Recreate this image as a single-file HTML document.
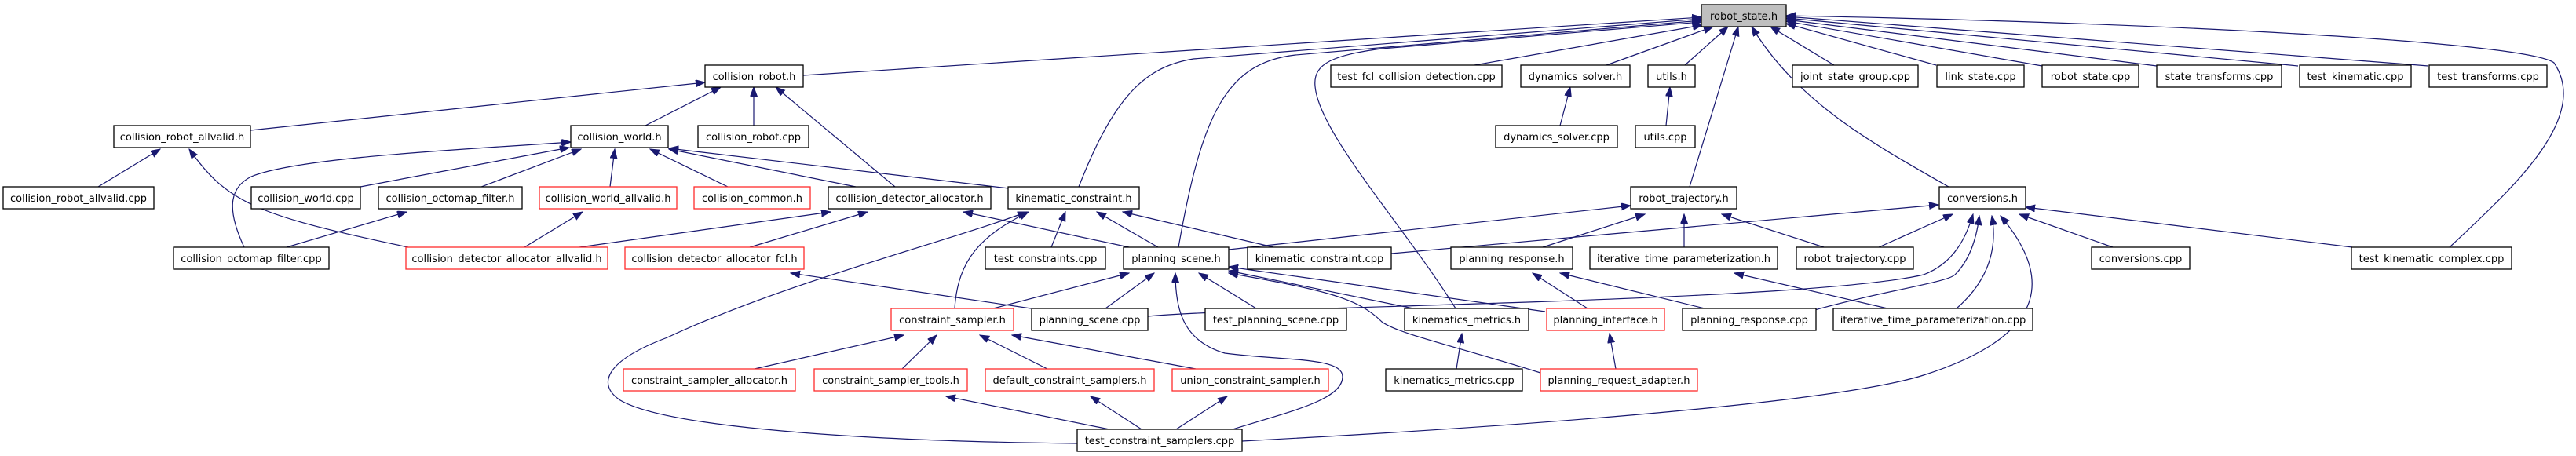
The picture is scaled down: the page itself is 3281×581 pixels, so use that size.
<!DOCTYPE html>
<html><head><meta charset="utf-8"><style>
html,body{margin:0;padding:0;background:#fff;width:3281px;height:581px;overflow:hidden}
svg{display:block}
.n{fill:#fff;stroke:#000;stroke-width:1.3}
.r{fill:#fff;stroke:#ff2b2b;stroke-width:1.3}
text{font-family:"DejaVu Sans","Liberation Sans",sans-serif;font-size:13px;fill:#000;text-anchor:middle}
path{fill:none;stroke:#191970;stroke-width:1.2;marker-end:url(#a)}
</style></head><body>
<svg width="3281" height="581" viewBox="0 0 3281 581" xmlns="http://www.w3.org/2000/svg">
<defs><marker id="a" markerUnits="userSpaceOnUse" markerWidth="13" markerHeight="10" refX="12" refY="4.5" orient="auto"><polygon points="0,0 12,4.5 0,9" fill="#191970" stroke="#191970"/></marker></defs>
<g>
<path d="M1023,96 L2167,22"/>
<path d="M319,166 L898,105"/>
<path d="M822,160 L918,111"/>
<path d="M960,160 L960,111"/>
<path d="M1140,238 L988,111"/>
<path d="M125,238 L204,190"/>
<path d="M520,315 C330,275 290,260 241,190"/>
<path d="M459,238 L725,188"/>
<path d="M613,238 L740,190"/>
<path d="M311,315 C290,270 290,240 320,225 C380,200 600,190 727,181"/>
<path d="M777,238 L783,190"/>
<path d="M927,238 L828,190"/>
<path d="M1090,238 L852,190"/>
<path d="M1285,240 L852,189"/>
<path d="M365,315 L518,270"/>
<path d="M668,315 L742,270"/>
<path d="M738,315 L1058,270"/>
<path d="M955,315 L1105,270"/>
<path d="M1438,315 L1227,270"/>
<path d="M1374,238 C1420,120 1460,85 1520,75 L2167,24"/>
<path d="M1501,315 C1530,150 1560,80 1650,70 L2167,26"/>
<path d="M1339,315 L1357,270"/>
<path d="M1475,315 L1397,270"/>
<path d="M1622,315 L1430,270"/>
<path d="M1216,393 C1220,330 1250,300 1310,270"/>
<path d="M1372,565 C1100,562 850,545 790,510 C760,490 770,460 850,430 C1000,360 1200,310 1308,270"/>
<path d="M1565,318 L2077,262"/>
<path d="M1772,323 L2469,261"/>
<path d="M1265,393 L1438,348"/>
<path d="M1408,393 L1470,348"/>
<path d="M1570,547 C1640,525 1710,510 1710,480 C1710,455 1640,460 1560,450 C1510,435 1497,400 1497,348"/>
<path d="M1600,393 L1527,348"/>
<path d="M1800,393 L1565,345"/>
<path d="M1968,397 L1565,340"/>
<path d="M1962,475 C1850,440 1780,425 1760,410 C1730,380 1690,370 1565,348"/>
<path d="M1462,403 C1600,390 2300,385 2450,350 C2490,335 2505,300 2513,273"/>
<path d="M2304,397 C2400,370 2480,360 2490,350 C2510,330 2518,300 2521,275"/>
<path d="M2492,393 C2530,360 2545,320 2537,275"/>
<path d="M1582,562 C2000,540 2350,510 2450,478 C2600,430 2620,360 2548,275"/>
<path d="M2393,315 L2487,273"/>
<path d="M2691,315 L2572,273"/>
<path d="M2996,315 L2580,264"/>
<path d="M2482,238 C2380,180 2290,130 2231,34"/>
<path d="M3120,315 C3200,240 3300,150 3253,80 C3220,55 2800,30 2275,20"/>
<path d="M2152,238 L2214,34"/>
<path d="M1965,315 L2095,273"/>
<path d="M2145,315 L2145,273"/>
<path d="M2323,315 L2193,273"/>
<path d="M2022,393 L1952,348"/>
<path d="M2171,393 L1987,348"/>
<path d="M2404,393 L2209,348"/>
<path d="M1854,393 C1790,290 1680,170 1675,110 C1672,80 1700,70 1760,62 L2167,28"/>
<path d="M1855,470 L1862,425"/>
<path d="M2058,470 L2050,425"/>
<path d="M1987,160 L2000,111"/>
<path d="M2122,160 L2127,111"/>
<path d="M1878,83 L2168,32"/>
<path d="M2046,83 L2182,34"/>
<path d="M2146,83 L2201,34"/>
<path d="M2336,83 L2255,34"/>
<path d="M2466,83 L2275,30"/>
<path d="M2601,84 L2275,27"/>
<path d="M2747,84 L2275,25"/>
<path d="M2927,84 L2275,23"/>
<path d="M3093,84 L2275,21"/>
<path d="M961,470 L1151,427"/>
<path d="M1149,470 L1193,427"/>
<path d="M1334,470 L1248,427"/>
<path d="M1523,470 L1289,427"/>
<path d="M1413,547 L1205,505"/>
<path d="M1454,547 L1389,505"/>
<path d="M1498,547 L1563,505"/>
<path d="M1313,393 L1007,348"/>
</g>
<g>
<rect x="2167" y="6" width="108" height="28" fill="#bfbfbf" stroke="#000" stroke-width="1.3"/><text x="2221" y="25">robot_state.h</text>
<rect class="n" x="898" y="83" width="125" height="28"/><text x="960.5" y="102">collision_robot.h</text>
<rect class="n" x="1695" y="83" width="218" height="28"/><text x="1804" y="102">test_fcl_collision_detection.cpp</text>
<rect class="n" x="1937" y="83" width="139" height="28"/><text x="2006.5" y="102">dynamics_solver.h</text>
<rect class="n" x="2099" y="83" width="60" height="28"/><text x="2129" y="102">utils.h</text>
<rect class="n" x="2283" y="83" width="160" height="28"/><text x="2363" y="102">joint_state_group.cpp</text>
<rect class="n" x="2467" y="83" width="111" height="28"/><text x="2522.5" y="102">link_state.cpp</text>
<rect class="n" x="2601" y="83" width="123" height="28"/><text x="2662.5" y="102">robot_state.cpp</text>
<rect class="n" x="2747" y="83" width="159" height="28"/><text x="2826.5" y="102">state_transforms.cpp</text>
<rect class="n" x="2929" y="83" width="142" height="28"/><text x="3000" y="102">test_kinematic.cpp</text>
<rect class="n" x="3094" y="83" width="150" height="28"/><text x="3169" y="102">test_transforms.cpp</text>
<rect class="n" x="145" y="160" width="174" height="28"/><text x="232" y="179">collision_robot_allvalid.h</text>
<rect class="n" x="727" y="160" width="124" height="28"/><text x="789" y="179">collision_world.h</text>
<rect class="n" x="889" y="160" width="141" height="28"/><text x="959.5" y="179">collision_robot.cpp</text>
<rect class="n" x="1905" y="160" width="155" height="28"/><text x="1982.5" y="179">dynamics_solver.cpp</text>
<rect class="n" x="2083" y="160" width="76" height="28"/><text x="2121" y="179">utils.cpp</text>
<rect class="n" x="4" y="238" width="192" height="28"/><text x="100" y="257">collision_robot_allvalid.cpp</text>
<rect class="n" x="320" y="238" width="139" height="28"/><text x="389.5" y="257">collision_world.cpp</text>
<rect class="n" x="482" y="238" width="183" height="28"/><text x="573.5" y="257">collision_octomap_filter.h</text>
<rect class="r" x="687" y="238" width="175" height="28"/><text x="774.5" y="257">collision_world_allvalid.h</text>
<rect class="r" x="884" y="238" width="148" height="28"/><text x="958" y="257">collision_common.h</text>
<rect class="n" x="1055" y="238" width="207" height="28"/><text x="1158.5" y="257">collision_detector_allocator.h</text>
<rect class="n" x="1284" y="238" width="167" height="28"/><text x="1367.5" y="257">kinematic_constraint.h</text>
<rect class="n" x="2077" y="238" width="135" height="28"/><text x="2144.5" y="257">robot_trajectory.h</text>
<rect class="n" x="2470" y="238" width="110" height="28"/><text x="2525" y="257">conversions.h</text>
<rect class="n" x="221" y="315" width="198" height="28"/><text x="320" y="334">collision_octomap_filter.cpp</text>
<rect class="r" x="517" y="315" width="257" height="28"/><text x="645.5" y="334">collision_detector_allocator_allvalid.h</text>
<rect class="r" x="796" y="315" width="228" height="28"/><text x="910" y="334">collision_detector_allocator_fcl.h</text>
<rect class="n" x="1255" y="315" width="153" height="28"/><text x="1331.5" y="334">test_constraints.cpp</text>
<rect class="n" x="1431" y="315" width="134" height="28"/><text x="1498" y="334">planning_scene.h</text>
<rect class="n" x="1589" y="315" width="183" height="28"/><text x="1680.5" y="334">kinematic_constraint.cpp</text>
<rect class="n" x="1848" y="315" width="155" height="28"/><text x="1925.5" y="334">planning_response.h</text>
<rect class="n" x="2025" y="315" width="239" height="28"/><text x="2144.5" y="334">iterative_time_parameterization.h</text>
<rect class="n" x="2288" y="315" width="149" height="28"/><text x="2362.5" y="334">robot_trajectory.cpp</text>
<rect class="n" x="2664" y="315" width="125" height="28"/><text x="2726.5" y="334">conversions.cpp</text>
<rect class="n" x="2995" y="315" width="204" height="28"/><text x="3097" y="334">test_kinematic_complex.cpp</text>
<rect class="r" x="1135" y="393" width="156" height="28"/><text x="1213" y="412">constraint_sampler.h</text>
<rect class="n" x="1314" y="393" width="148" height="28"/><text x="1388" y="412">planning_scene.cpp</text>
<rect class="n" x="1535" y="393" width="180" height="28"/><text x="1625" y="412">test_planning_scene.cpp</text>
<rect class="n" x="1789" y="393" width="158" height="28"/><text x="1868" y="412">kinematics_metrics.h</text>
<rect class="r" x="1970" y="393" width="150" height="28"/><text x="2045" y="412">planning_interface.h</text>
<rect class="n" x="2143" y="393" width="170" height="28"/><text x="2228" y="412">planning_response.cpp</text>
<rect class="n" x="2335" y="393" width="254" height="28"/><text x="2462" y="412">iterative_time_parameterization.cpp</text>
<rect class="r" x="794" y="470" width="219" height="28"/><text x="903.5" y="489">constraint_sampler_allocator.h</text>
<rect class="r" x="1037" y="470" width="195" height="28"/><text x="1134.5" y="489">constraint_sampler_tools.h</text>
<rect class="r" x="1255" y="470" width="215" height="28"/><text x="1362.5" y="489">default_constraint_samplers.h</text>
<rect class="r" x="1493" y="470" width="199" height="28"/><text x="1592.5" y="489">union_constraint_sampler.h</text>
<rect class="n" x="1765" y="470" width="174" height="28"/><text x="1852" y="489">kinematics_metrics.cpp</text>
<rect class="r" x="1962" y="470" width="200" height="28"/><text x="2062" y="489">planning_request_adapter.h</text>
<rect class="n" x="1372" y="547" width="210" height="28"/><text x="1477" y="566">test_constraint_samplers.cpp</text>
</g>
</svg>
</body></html>
